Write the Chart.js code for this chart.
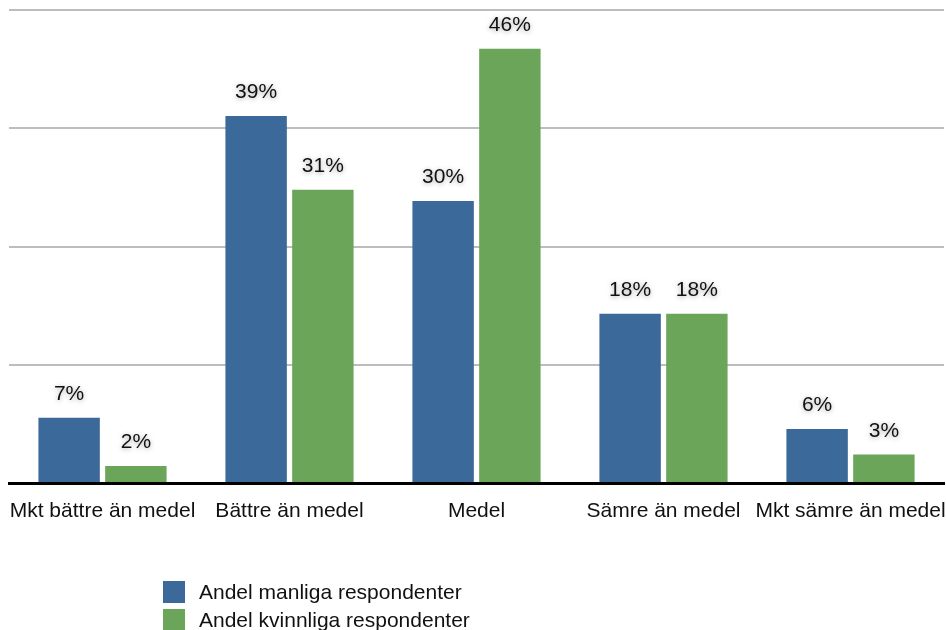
<!doctype html>
<html lang="sv">
  <head>
    <meta charset="utf-8">
    <title>Andel respondenter</title>
    <style>
      * {
        margin: 0;
        padding: 0;
        font-family: "Liberation Sans", Arial, sans-serif;
      }
      body {
        background: white;
      }
      .chartBox {
        position: relative;
        width: 946px;
        height: 630px;
      }
      .legend {
        position: absolute;
        left: 163px;
        top: 581px;
      }
      .legend div {
        display: flex;
        align-items: center;
        height: 22px;
        margin-bottom: 6px;
        font-size: 21px;
        color: #111;
      }
      .legend span {
        display: inline-block;
        width: 22px;
        height: 22px;
        margin-right: 14px;
      }
    </style>
  </head>
  <body>
    <div class="chartBox">
      <canvas id="myChart" width="946" height="630"></canvas>
      <div class="legend" id="legend"></div>
    </div>
    <script src="https://cdn.jsdelivr.net/npm/chart.js/dist/chart.umd.min.js"></script>
    <script>
    // data
    const categories = ['Mkt bättre än medel', 'Bättre än medel', 'Medel', 'Sämre än medel', 'Mkt sämre än medel'];
    const seriesNames = ['Andel manliga respondenter', 'Andel kvinnliga respondenter'];
    const manliga = [6.9, 38.8, 29.8, 17.9, 5.7];
    const kvinnliga = [1.8, 31.0, 45.9, 17.9, 3.0];
    const colors = ['#3b6999', '#6aa55a'];

    // value labels above bars
    const barLabels = {
      id: 'barLabels',
      afterDatasetsDraw(chart) {
        const ctx = chart.ctx;
        ctx.save();
        ctx.font = '21px "Liberation Sans", Arial, sans-serif';
        ctx.fillStyle = '#111';
        ctx.textAlign = 'center';
        ctx.textBaseline = 'alphabetic';
        ctx.shadowColor = 'rgba(0, 0, 0, 0.35)';
        ctx.shadowBlur = 5;
        ctx.shadowOffsetY = 1;
        chart.data.datasets.forEach((ds, i) => {
          chart.getDatasetMeta(i).data.forEach((bar, j) => {
            ctx.fillText(Math.round(ds.data[j]) + '%', bar.x, bar.y - 18);
          });
        });
        ctx.restore();
      }
    };

    const data = {
      labels: categories,
      datasets: [{
        label: seriesNames[0],
        data: manliga,
        backgroundColor: colors[0]
      }, {
        label: seriesNames[1],
        data: kvinnliga,
        backgroundColor: colors[1]
      }]
    };

    const config = {
      type: 'bar',
      data,
      options: {
        responsive: false,
        animation: false,
        datasets: {
          bar: {
            categoryPercentage: 0.714,
            barPercentage: 0.92
          }
        },
        layout: {
          padding: { left: 9, right: 2, top: 10, bottom: 0 }
        },
        plugins: {
          legend: { display: false },
          tooltip: { enabled: false }
        },
        scales: {
          x: {
            z: 1,
            grid: { display: false, drawTicks: false },
            border: { display: true, color: '#000', width: 3 },
            ticks: {
              padding: 16,
              minRotation: 0,
              maxRotation: 0,
              autoSkip: false,
              color: '#111',
              font: { size: 21, family: '"Liberation Sans", Arial, sans-serif' }
            },
            afterFit(scale) {
              scale.height = 147;
              scale.paddingLeft = 0;
              scale.paddingRight = 0;
            }
          },
          y: {
            min: 0,
            max: 50,
            ticks: { display: false, stepSize: 12.5 },
            grid: { color: '#bdbdbd', lineWidth: 2, drawTicks: false },
            border: { display: false },
            afterFit(scale) { scale.width = 0; }
          }
        }
      },
      plugins: [barLabels]
    };

    const myChart = new Chart(document.getElementById('myChart'), config);

    // legend
    const legend = document.getElementById('legend');
    myChart.data.datasets.forEach(ds => {
      const row = document.createElement('div');
      const box = document.createElement('span');
      box.style.background = ds.backgroundColor;
      row.appendChild(box);
      row.appendChild(document.createTextNode(ds.label));
      legend.appendChild(row);
    });
    </script>
  </body>
</html>
